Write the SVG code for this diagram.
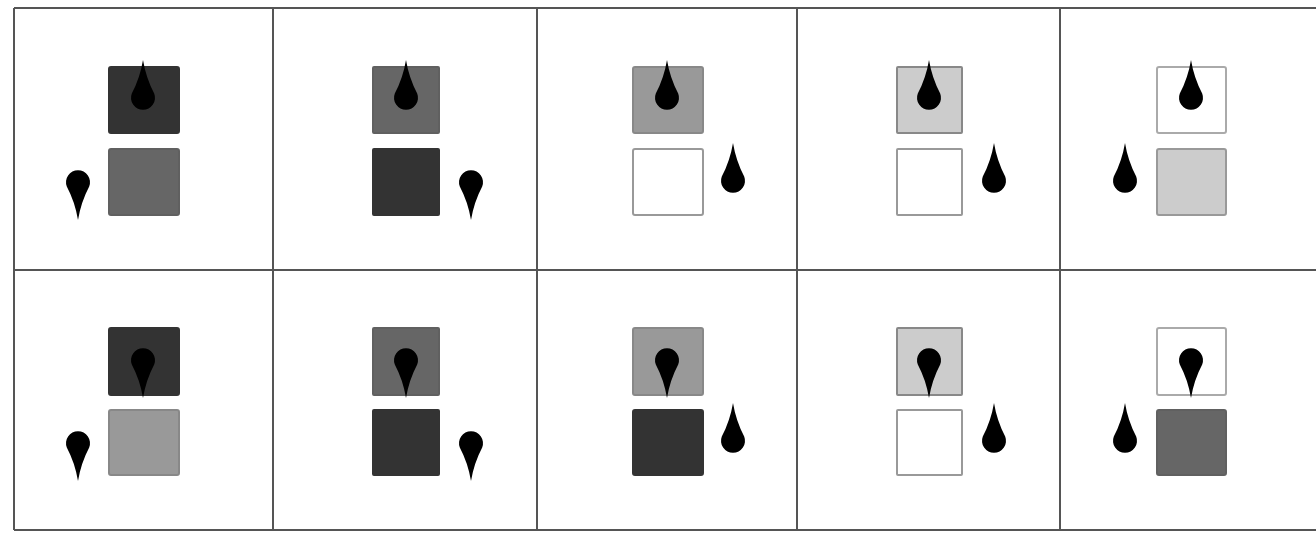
<svg xmlns="http://www.w3.org/2000/svg" xmlns:xlink="http://www.w3.org/1999/xlink" width="1316" height="534" viewBox="0 0 1316 534">
<style>
.grid{stroke:#555;stroke-width:2;fill:none}
.sq{stroke-width:2}
.k3{fill:#333;stroke:#333}
.k6{fill:#666;stroke:#606060}
.k9{fill:#999;stroke:#888}
.kc{fill:#ccc;stroke:#888}
.kw{fill:#fff;stroke:#999}
.kc2{fill:#ccc;stroke:#999}
.kwa{fill:#fff;stroke:#aaa}
.d{fill:#000}
</style>
<defs>
<path id="drop" d="M0,-38 Q3,-20 11.2,-4.5 A12,12 0 1 1 -11.2,-4.5 Q-3,-20 0,-38 Z"/>
</defs>
<rect x="0" y="0" width="1316" height="534" fill="#fff"/>
<g id="grid">
<line class="grid" x1="14" y1="8" x2="1316" y2="8"/>
<line class="grid" x1="14" y1="270" x2="1316" y2="270"/>
<line class="grid" x1="14" y1="530" x2="1316" y2="530"/>
<line class="grid" x1="14" y1="8" x2="14" y2="530"/>
<line class="grid" x1="273" y1="8" x2="273" y2="530"/>
<line class="grid" x1="537" y1="8" x2="537" y2="530"/>
<line class="grid" x1="797" y1="8" x2="797" y2="530"/>
<line class="grid" x1="1060" y1="8" x2="1060" y2="530"/>
</g>
<g id="connectors"></g>
<g id="cell-1-1">
<rect class="sq k3" x="109" y="67" width="70" height="66" rx="2"/>
<rect class="sq k6" x="109" y="149" width="70" height="66" rx="2"/>
<use class="d" href="#drop" xlink:href="#drop" transform="translate(143,98)"/>
<use class="d" href="#drop" xlink:href="#drop" transform="translate(78,182) rotate(180)"/>
</g>
<g id="cell-1-2">
<rect class="sq k6" x="373" y="67" width="66" height="66" rx="1"/>
<rect class="sq k3" x="373" y="149" width="66" height="66" rx="1"/>
<use class="d" href="#drop" xlink:href="#drop" transform="translate(406,98)"/>
<use class="d" href="#drop" xlink:href="#drop" transform="translate(471,182) rotate(180)"/>
</g>
<g id="cell-1-3">
<rect class="sq k9" x="633" y="67" width="70" height="66" rx="2"/>
<rect class="sq kw" x="633" y="149" width="70" height="66" rx="2"/>
<use class="d" href="#drop" xlink:href="#drop" transform="translate(667,98)"/>
<use class="d" href="#drop" xlink:href="#drop" transform="translate(733,181)"/>
</g>
<g id="cell-1-4">
<rect class="sq kc" x="897" y="67" width="65" height="66" rx="1"/>
<rect class="sq kw" x="897" y="149" width="65" height="66" rx="1"/>
<use class="d" href="#drop" xlink:href="#drop" transform="translate(929,98)"/>
<use class="d" href="#drop" xlink:href="#drop" transform="translate(994,181)"/>
</g>
<g id="cell-1-5">
<rect class="sq kwa" x="1157" y="67" width="69" height="66" rx="2"/>
<rect class="sq kc2" x="1157" y="149" width="69" height="66" rx="2"/>
<use class="d" href="#drop" xlink:href="#drop" transform="translate(1191,98)"/>
<use class="d" href="#drop" xlink:href="#drop" transform="translate(1125,181)"/>
</g>
<g id="cell-2-1">
<rect class="sq k3" x="109" y="328" width="70" height="67" rx="2"/>
<rect class="sq k9" x="109" y="410" width="70" height="65" rx="2"/>
<use class="d" href="#drop" xlink:href="#drop" transform="translate(143,360) rotate(180)"/>
<use class="d" href="#drop" xlink:href="#drop" transform="translate(78,443) rotate(180)"/>
</g>
<g id="cell-2-2">
<rect class="sq k6" x="373" y="328" width="66" height="67" rx="1"/>
<rect class="sq k3" x="373" y="410" width="66" height="65" rx="1"/>
<use class="d" href="#drop" xlink:href="#drop" transform="translate(406,360) rotate(180)"/>
<use class="d" href="#drop" xlink:href="#drop" transform="translate(471,443) rotate(180)"/>
</g>
<g id="cell-2-3">
<rect class="sq k9" x="633" y="328" width="70" height="67" rx="2"/>
<rect class="sq k3" x="633" y="410" width="70" height="65" rx="2"/>
<use class="d" href="#drop" xlink:href="#drop" transform="translate(667,360) rotate(180)"/>
<use class="d" href="#drop" xlink:href="#drop" transform="translate(733,441)"/>
</g>
<g id="cell-2-4">
<rect class="sq kc" x="897" y="328" width="65" height="67" rx="1"/>
<rect class="sq kw" x="897" y="410" width="65" height="65" rx="1"/>
<use class="d" href="#drop" xlink:href="#drop" transform="translate(929,360) rotate(180)"/>
<use class="d" href="#drop" xlink:href="#drop" transform="translate(994,441)"/>
</g>
<g id="cell-2-5">
<rect class="sq kwa" x="1157" y="328" width="69" height="67" rx="2"/>
<rect class="sq k6" x="1157" y="410" width="69" height="65" rx="2"/>
<use class="d" href="#drop" xlink:href="#drop" transform="translate(1191,360) rotate(180)"/>
<use class="d" href="#drop" xlink:href="#drop" transform="translate(1125,441)"/>
</g>
</svg>
